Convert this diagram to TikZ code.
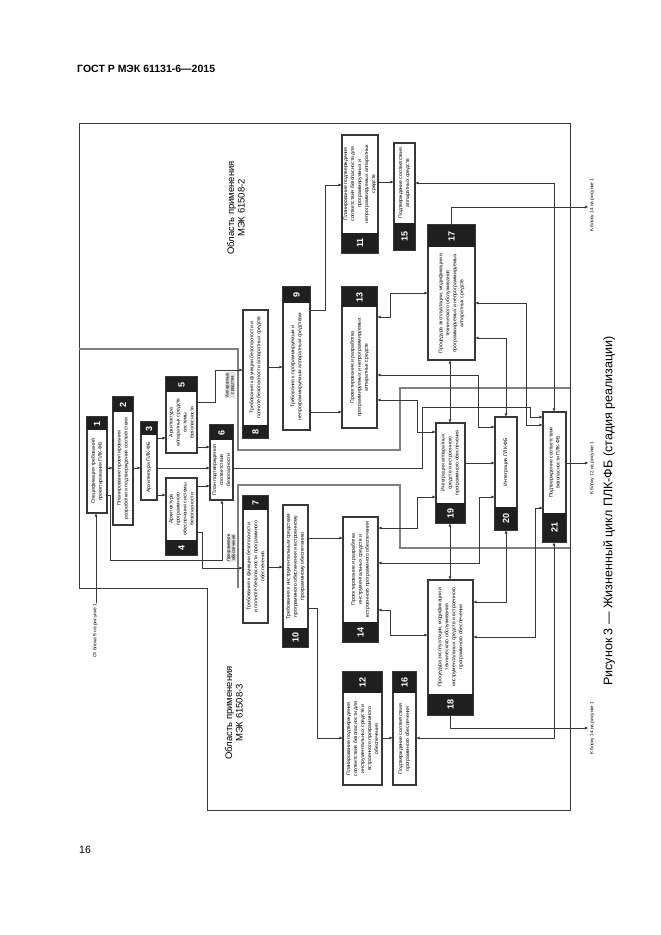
\documentclass[tikz,border=0pt]{standalone}
\usepackage{fontspec}
\setmainfont{Liberation Sans}
\usetikzlibrary{arrows.meta}

\colorlet{line edge}{black!78}
\colorlet{head area}{black!88}
\colorlet{scope edge}{black!50}
\tikzset{
  blockbody/.style={draw=line edge, line width=1.2pt, inner sep=0pt, outer sep=0pt},
  headnum/.style={text=white, font=\bfseries\fontsize{9}{9}\selectfont, rotate=90, inner sep=0pt},
  blocktext/.style={rotate=90, align=center, inner sep=0pt, font=\fontsize{5.1}{7}\selectfont},
  link/.style={draw=line edge, line width=1pt, >={Latex[length=3.6pt,width=3pt]}},
  outerframe/.style={draw=line edge, line width=1pt},
  scopeline/.style={draw=scope edge, line width=1.6pt},
  scopelabel/.style={rotate=90, align=center, inner sep=0pt, font=\fontsize{9.5}{10.5}\selectfont},
  sidenote/.style={rotate=90, align=center, inner sep=1pt, font=\fontsize{4.8}{6}\selectfont},
  flownote/.style={rotate=90, align=center, inner sep=0.5pt, fill=black!12, font=\fontsize{4.3}{5}\selectfont}
}

% block with the black number field at the top
\newcommand{\blokT}[8]{%
  \pgfmathsetmacro\bw{#4-#2}\pgfmathsetmacro\bh{#5-#3}%
  \node[blockbody, minimum width=\bw pt, minimum height=\bh pt] (#1) at ({(#2+#4)/2},{(#3+#5)/2}) {};
  \fill[head area] (#2,#3) rectangle (#4,#3+#6);
  \node[headnum] at ({(#2+#4)/2},{#3+#6/2}) {#7};
  \node[blocktext] at ({(#2+#4)/2},{(#3+#6+#5)/2}) {#8};
}
% block with the black number field at the bottom
\newcommand{\blokB}[8]{%
  \pgfmathsetmacro\bw{#4-#2}\pgfmathsetmacro\bh{#5-#3}%
  \node[blockbody, minimum width=\bw pt, minimum height=\bh pt] (#1) at ({(#2+#4)/2},{(#3+#5)/2}) {};
  \fill[head area] (#2,#5-#6) rectangle (#4,#5);
  \node[headnum] at ({(#2+#4)/2},{#5-#6/2}) {#7};
  \node[blocktext] at ({(#2+#4)/2},{(#3+#5-#6)/2}) {#8};
}

\begin{document}
\begin{tikzpicture}[x=1pt, y=-1pt]
  \useasboundingbox (0,0) rectangle (661,935);

  % page
  \node[anchor=west, inner sep=0pt, font=\bfseries\fontsize{10.5}{12}\selectfont] (gost) at (77,69) {ГОСТ Р МЭК 61131-6—2015};
  \node[anchor=west, inner sep=0pt, font=\fontsize{10.5}{12}\selectfont] (pagenum) at (79,850) {16};
  \node[rotate=90, inner sep=0pt, font=\fontsize{12.5}{14}\selectfont] (caption) at (609,511)
    {Рисунок 3 — Жизненный цикл ПЛК-ФБ (стадия реализации)};

  % scopes
  \draw[outerframe] (79,123) -- (570,123) -- (570,810) -- (207,810) -- (207,588) -- (79,588) -- cycle;
  \draw[scopeline] (79,349) -- (238,349) -- (238,450) -- (400,450) -- (400,388) -- (570,388);
  \draw[scopeline] (238,588) -- (238,485) -- (400,485) -- (400,548) -- (570,548);
  \node[scopelabel] (scopetwo) at (236,208) {Область применения\\МЭК 61508-2};
  \node[scopelabel] (scopethree) at (234,713) {Область применения\\МЭК 61508-3};

  % blocks
  \blokT{b1}{87}{417}{107}{513}{13}{1}{Спецификация требований\\проектирования ПЛК-ФБ}
  \blokT{b2}{113}{397}{133}{525}{15}{2}{Планирование проектирования\\разработки и подтверждения соответствия}
  \blokT{b3}{141}{422}{157}{500}{13}{3}{Архитектура ПЛК-ФБ}
  \blokT{b5}{166}{377}{197}{453}{15}{5}{Архитектура\\аппаратных средств\\системы\\безопасности}
  \blokB{b4}{166}{478}{197}{555}{15}{4}{Архитектура\\программного\\обеспечения системы\\безопасности}
  \blokT{b6}{210}{425}{233}{500}{15}{6}{План подтверждения\\соответствия\\безопасности}
  \blokB{b8}{243}{310}{268}{438}{13}{8}{Требования к функции безопасности и\\полноте безопасности аппаратных средств}
  \blokT{b7}{243}{496}{268}{623}{14}{7}{Требования к функции безопасности\\и полноте безопасности программного\\обеспечения}
  \blokT{b9}{283}{287}{310}{430}{16}{9}{Требования к программируемым и\\непрограммируемым аппаратным средствам}
  \blokB{b10}{283}{505}{308}{647}{19}{10}{Требования к инструментальным средствам\\программного обеспечения и встроенному\\программному обеспечению}
  \blokB{b11}{342}{135}{378}{253}{20}{11}{Планирование подтверждения\\соответствия безопасности для\\программируемых и\\непрограммируемых аппаратных\\средств}
  \blokT{b13}{342}{287}{377}{428}{20}{13}{Проектирование и разработка\\программируемых и непрограммируемых\\аппаратных средств}
  \blokB{b14}{343}{517}{378}{642}{20}{14}{Проектирование и разработка\\инструментальных средств и\\встроенного программного обеспечения}
  \blokT{b12}{343}{672}{382}{785}{21}{12}{Планирование подтверждения\\соответствия безопасности для\\инструментальных средств и\\встроенного программного\\обеспечения}
  \blokB{b15}{394}{143}{415}{250}{27}{15}{Подтверждение соответствия\\аппаратных средств}
  \blokT{b16}{393}{672}{416}{785}{21}{16}{Подтверждение соответствия\\программного обеспечения}
  \blokT{b17}{428}{225}{475}{360}{22}{17}{Процедура эксплуатации, модификации и\\технического обслуживания\\программируемых и непрограммируемых\\аппаратных средств}
  \blokB{b18}{428}{580}{473}{715}{21}{18}{Процедура эксплуатации, модификации и\\технического обслуживания\\инструментальных средств и встроенного\\программного обеспечения}
  \blokB{b19}{436}{423}{465}{523}{20}{19}{Интеграция аппаратных\\средств и встроенного\\программного обеспечения}
  \blokB{b20}{495}{417}{517}{530}{23}{20}{Интеграция ПЛК-ФБ}
  \blokB{b21}{543}{412}{566}{542}{29}{21}{Подтверждение соответствия\\безопасности ПЛК-ФБ}

  % outside references
  \node[sidenote] (from9) at (95,631) {От блока 9 на рисунке 1};
  \node[sidenote] (to14a) at (592,205) {К блоку 14 на рисунке 1};
  \node[sidenote] (to12) at (592,468) {К блоку 12 на рисунке 1};
  \node[sidenote] (to14b) at (592,728) {К блоку 14 на рисунке 1};
  \node[flownote] (hwnote) at (230,385) {Аппаратные\\средства};
  \node[flownote] (swnote) at (231,548) {Программное\\обеспечение};

  % system part
  \draw[link,->] (from9.east -| 96,0) -- (b1.south -| 96,0);
  \draw[link,->] (b1.east |- 0,468) -- (b2.west |- 0,468);
  \draw[link,->] (b2.east |- 0,468) -- (b3.west |- 0,468);
  \draw[link,->] (b3.east |- 0,468) -- (b6.west |- 0,468);
  \draw[link,->] (b3.east |- 0,438) -- (b5.west |- 0,438);
  \draw[link,->] (b3.east |- 0,495) -- (b4.west |- 0,495);
  \draw[link,->] (b5.east |- 0,447) -- (b6.west |- 0,447);
  \draw[link,->] (b4.east |- 0,486) -- (b6.west |- 0,486);
  \draw[link,->] (b1.east |- 0,495) -- (110,495) -- (110,560) -- (222,560) -- (b6.south -| 222,0);
  \draw[link,->] (b4.east |- 0,532) -- (202,532) -- (202,568) -- (b7.west |- 0,568);
  \draw[link,->] (b5.east |- 0,402) -- (215,402) -- (215,370) -- (b8.west |- 0,370);
  \draw[link,->] (b6.east |- 0,468) -- (422,468) -- (422,407) -- (530,407) -- (530,417) -- (b21.west |- 0,417);

  % hardware part
  \draw[link,->] (b8.east |- 0,367) -- (b9.west |- 0,367);
  \draw[link,->] (b9.east |- 0,310) -- (325,310) -- (325,185) -- (b11.west |- 0,185);
  \draw[link,->] (b9.east |- 0,412) -- (b13.west |- 0,412);
  \draw[link,->] (b11.east |- 0,182) -- (b15.west |- 0,182);
  \draw[link,<->] (b13.east |- 0,317) -- (390,317) -- (390,293) -- (b17.west |- 0,293);
  \draw[link,<->] (b13.east |- 0,375) -- (478,375) -- (478,427) -- (b20.west |- 0,427);
  \draw[link,<->] (b13.east |- 0,400) -- (417,400) -- (417,432) -- (b19.west |- 0,432);
  \draw[link,<->] (b17.south -| 450,0) -- (b19.north -| 450,0);
  \draw[link,<->] (b17.east |- 0,338) -- (506,338) -- (b20.north -| 506,0);
  \draw[link,<->] (b17.east |- 0,303) -- (526,303) -- (526,425) -- (b21.west |- 0,425);
  \draw[link,->] (b17.north -| 451,0) -- (451,207) -- (to14a.north |- 0,207);
  \draw[link,<->] (b15.east |- 0,183) -- (554,183) -- (b21.north -| 554,0);

  % integration
  \draw[link,->] (b19.east |- 0,463) -- (b20.west |- 0,463);
  \draw[link,->] (b21.east |- 0,463) -- (to12.north |- 0,463);
  \draw[link,<->] (b14.east |- 0,528) -- (417,528) -- (417,497) -- (b19.west |- 0,497);
  \draw[link,<->] (b14.east |- 0,563) -- (479,563) -- (479,497) -- (b20.west |- 0,497);
  \draw[link,<->] (b19.south -| 450,0) -- (b18.north -| 450,0);
  \draw[link,<->] (b14.east |- 0,610) -- (390,610) -- (390,635) -- (b18.west |- 0,635);
  \draw[link,<->] (b20.south -| 506,0) -- (506,602) -- (b18.east |- 0,602);
  \draw[link,<->] (b21.west |- 0,508) -- (535,508) -- (535,637) -- (b18.east |- 0,637);
  \draw[link,<->] (b21.south -| 554,0) -- (554,738) -- (b16.east |- 0,738);
  \draw[link,->] (b18.south -| 450,0) -- (450,728) -- (to14b.north |- 0,728);

  % software part
  \draw[link,->] (b7.east |- 0,567) -- (b10.west |- 0,567);
  \draw[link,->] (b10.east |- 0,538) -- (b14.west |- 0,538);
  \draw[link,->] (b10.east |- 0,608) -- (317,608) -- (317,738) -- (b12.west |- 0,738);
  \draw[link,->] (b12.east |- 0,738) -- (b16.west |- 0,738);
\end{tikzpicture}
\end{document}
